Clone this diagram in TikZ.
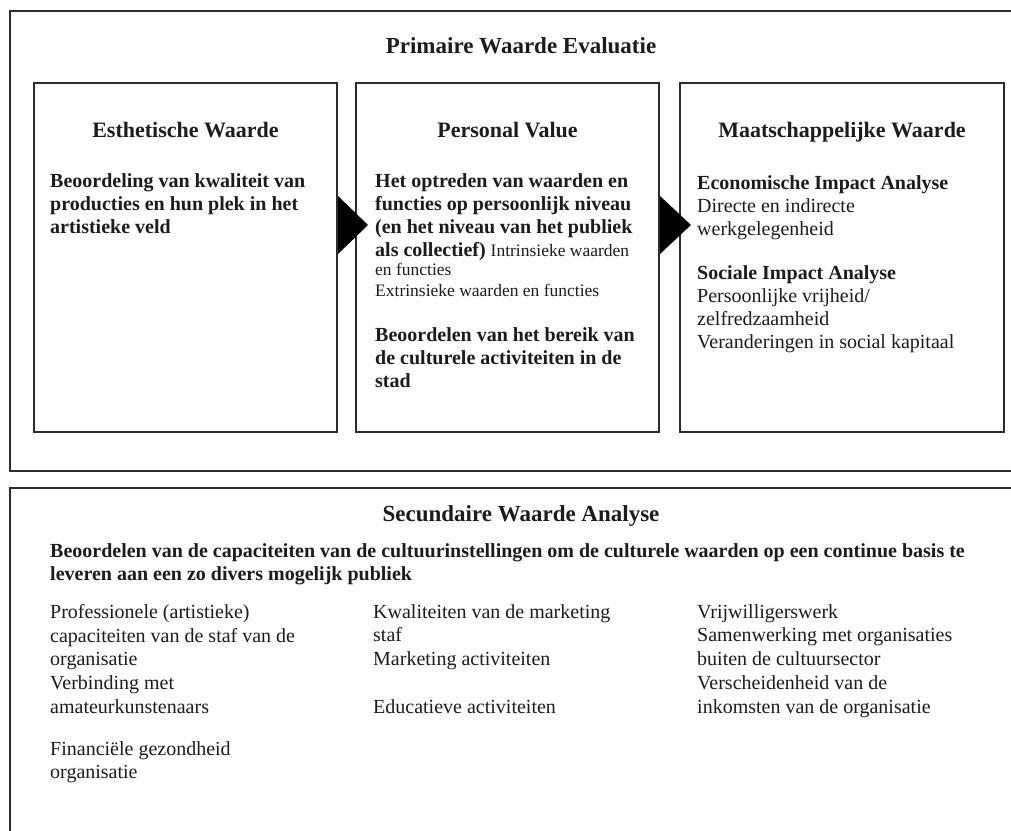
\documentclass[tikz,border=0pt]{standalone}
\usepackage{fontspec}
\setmainfont{Liberation Serif}
\usepackage{tikz}
\definecolor{framegray}{RGB}{45, 45, 45}
\definecolor{inkblack}{RGB}{28, 28, 28}
\newcommand{\framesize}{\fontsize{23}{27}\selectfont}
\newcommand{\titlesize}{\fontsize{22}{26}\selectfont}
\newcommand{\bodysize}{\fontsize{20}{23}\selectfont}
\newcommand{\notesize}{\fontsize{17.5}{20.5}\selectfont}
\newcommand{\listsize}{\fontsize{20}{23.8}\selectfont}
\tikzset{
    outerframe/.style={draw=framegray, line width=2.4pt},
    valuebox/.style={draw=framegray, line width=2pt, minimum height=349pt},
    frametitle/.style={font=\framesize\bfseries, text=inkblack, inner sep=0pt, anchor=base},
    boxtitle/.style={font=\titlesize\bfseries, text=inkblack, inner sep=0pt, anchor=base},
    boldtext/.style={font=\bodysize\bfseries, text=inkblack, inner sep=0pt, anchor=north west, align=left},
    plaintext/.style={font=\bodysize, text=inkblack, inner sep=0pt, anchor=north west, align=left},
    notetext/.style={font=\notesize, text=inkblack, inner sep=0pt, anchor=north west, align=left},
    listtext/.style={font=\listsize, text=inkblack, inner sep=0pt, anchor=north west, align=left}
}

\begin{document}
\begin{tikzpicture}[x=1pt, y=-1pt]
    \useasboundingbox (0,0) rectangle (1011,830);
    \clip (0,0) rectangle (1011,830);

    \node[outerframe, minimum width=1020pt, minimum height=460pt] (primframe) at (520,241) {};
    \node[outerframe, minimum width=1020pt, minimum height=362pt] (secframe) at (520,669) {};

    \node[valuebox, minimum width=303pt] (esth) at (185.5,257.5) {};
    \node[valuebox, minimum width=303pt] (pers) at (507.5,257.5) {};
    \node[valuebox, minimum width=324pt] (maat) at (842,257.5) {};

    \fill[black] (esth.east |- 0,196) -- (368,225) -- (esth.east |- 0,254) -- cycle;
    \fill[black] (pers.east |- 0,196) -- (691,225) -- (pers.east |- 0,254) -- cycle;

    \node[frametitle] (primtitle) at (521,53) {Primaire Waarde Evaluatie};
    \node[boxtitle] (esthtitle) at (esth.center |- 0,137) {Esthetische Waarde};
    \node[boxtitle] (perstitle) at (pers.center |- 0,137) {Personal Value};
    \node[boxtitle] (maattitle) at (maat.center |- 0,137) {Maatschappelijke Waarde};

    \node[boldtext] (esthtext) at (50,173) {Beoordeling van kwaliteit van\\producties en hun plek in het\\artistieke veld};

    \node[boldtext] (perstext) at (375,173) {Het optreden van waarden en\\functies op persoonlijk niveau\\(en het niveau van het publiek\\als collectief) {\notesize\mdseries Intrinsieke waarden}};
    \node[notetext] (persnote) at (375,263) {en functies\\Extrinsieke waarden en functies};
    \node[boldtext] (persreach) at (375,327) {Beoordelen van het bereik van\\de culturele activiteiten in de\\stad};

    \node[plaintext] (econtext) at (697,175) {\textbf{Economische Impact Analyse}\\Directe en indirecte\\werkgelegenheid};
    \node[plaintext] (socitext) at (697,265) {\textbf{Sociale Impact Analyse}\\Persoonlijke vrijheid/\\zelfredzaamheid\\Veranderingen in social kapitaal};

    \node[frametitle] (sectitle) at (521,521) {Secundaire Waarde Analyse};
    \node[boldtext, font=\listsize\bfseries] (secintro) at (50,543) {Beoordelen van de capaciteiten van de cultuurinstellingen om de culturele waarden op een continue basis te\\leveren aan een zo divers mogelijk publiek};

    \node[listtext] (staflist) at (50,604) {Professionele (artistieke)\\capaciteiten van de staf van de\\organisatie\\Verbinding met\\amateurkunstenaars};
    \node[listtext] (finlist) at (50,741) {Financi\"ele gezondheid\\organisatie};
    \node[listtext] (marklist) at (373,604) {Kwaliteiten van de marketing\\staf\\Marketing activiteiten\\[23.8pt]Educatieve activiteiten};
    \node[listtext] (vrijlist) at (697,604) {Vrijwilligerswerk\\Samenwerking met organisaties\\buiten de cultuursector\\Verscheidenheid van de\\inkomsten van de organisatie};
\end{tikzpicture}
\end{document}
